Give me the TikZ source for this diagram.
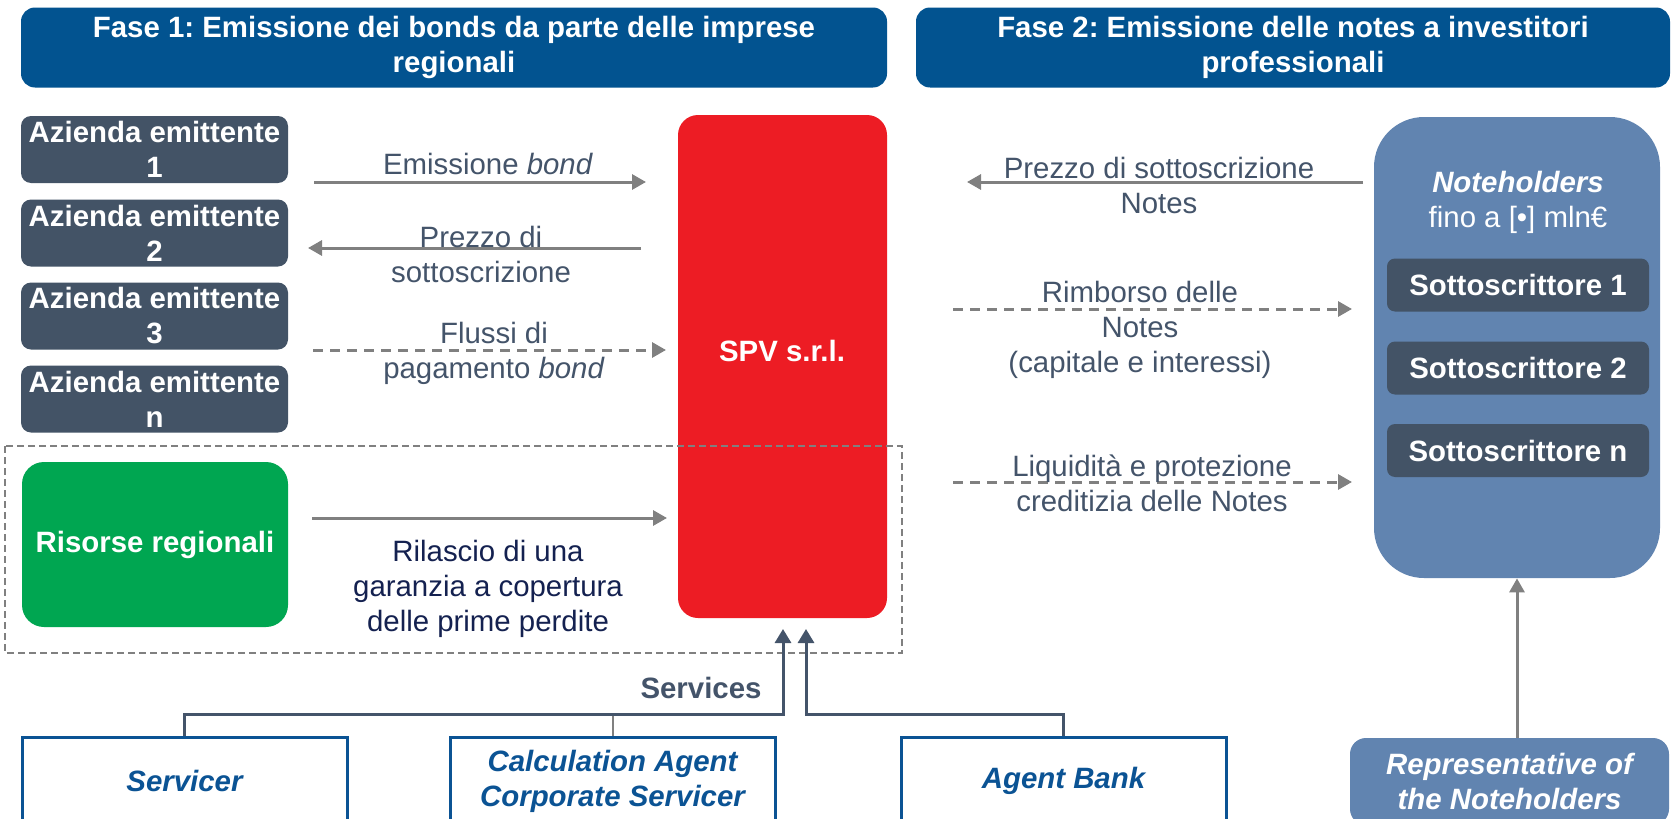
\documentclass[tikz,border=0pt]{standalone}
\usepackage{fontspec}
\setmainfont{Liberation Sans}
\usetikzlibrary{arrows.meta}
\definecolor{hblue}{RGB}{2,83,144}
\definecolor{slate}{RGB}{67,83,102}
\definecolor{spvred}{RGB}{237,28,36}
\definecolor{rgreen}{RGB}{0,166,81}
\definecolor{nblue}{RGB}{97,132,176}
\definecolor{agray}{RGB}{128,128,128}
\definecolor{lgray}{RGB}{68,84,106}
\definecolor{navy}{RGB}{20,33,80}
\definecolor{bblue}{RGB}{11,83,148}
\newcommand\myfs{\fontsize{14.7}{17.5}\selectfont}
\frenchspacing
\begin{document}
\begin{tikzpicture}[x=0.5pt,y=-0.5pt,
  every node/.style={font=\myfs, inner sep=0pt, align=center},
  hdr/.style={fill=hblue, rounded corners=7pt, text=white, font=\myfs\bfseries, minimum height=40pt},
  azbox/.style={fill=slate, rounded corners=5pt, text=white, font=\myfs\bfseries, minimum width=133.5pt, minimum height=33.5pt},
  sotbox/.style={fill=slate, rounded corners=4pt, text=white, font=\myfs\bfseries, minimum width=131pt, minimum height=26.5pt},
  bbox/.style={draw=bblue, line width=1.5pt, fill=white, text=bblue, font=\myfs\bfseries\itshape, minimum width=162.5pt, minimum height=44pt},
  lbl/.style={text=lgray},
  garr/.style={draw=agray, line width=1.5pt, -{Triangle[length=7pt,width=7.5pt]}},
  gdash/.style={garr, dash pattern=on 5pt off 3.5pt},
  svc/.style={draw=lgray, line width=1.5pt, -{Triangle[length=7pt,width=8pt]}}
]
\useasboundingbox (0,0) rectangle (1672,819);
\clip (0,0) rectangle (1672,819);
\fill[white] (0,0) rectangle (1672,819);

% headers
\node[hdr, minimum width=433pt] (h1) at (454,47.5) {Fase 1: Emissione dei bonds da parte delle imprese\\regionali};
\node[hdr, minimum width=377pt] (h2) at (1293,47.5) {Fase 2: Emissione delle notes a investitori\\professionali};

% companies
\node[azbox] (az1) at (154.5,149.5) {Azienda emittente\\1};
\node[azbox] (az2) at (154.5,233) {Azienda emittente\\2};
\node[azbox] (az3) at (154.5,316) {Azienda emittente\\3};
\node[azbox] (az4) at (154.5,399) {Azienda emittente\\n};

% SPV
\node[fill=spvred, rounded corners=10pt, minimum width=104.5pt, minimum height=251.5pt] (spv) at (782.5,366.5) {};
\node[text=white, font=\myfs\bfseries] (spvt) at (782,351) {SPV s.r.l.};

% regional resources
\node[fill=rgreen, rounded corners=11pt, text=white, font=\myfs\bfseries, minimum width=133pt, minimum height=82.5pt] (ris) at (155,544.5) {Risorse regionali};

% dashed frame
\draw[agray, line width=1pt, dash pattern=on 3.5pt off 2pt] (5,446) rectangle (902,653);

% left arrows
\coordinate (e1a) at (314,182); \coordinate (e1b) at (646,182);
\draw[garr] (e1a) -- (e1b);
\node[lbl] (l1) at (488,164) {Emissione \textit{bond}};
\coordinate (e2a) at (641,248); \coordinate (e2b) at (308,248);
\draw[garr] (e2a) -- (e2b);
\node[lbl] (l2) at (481,254.5) {Prezzo di\\sottoscrizione};
\coordinate (e3a) at (313,350); \coordinate (e3b) at (666,350);
\draw[gdash] (e3a) -- (e3b);
\node[lbl] (l3) at (494,353) {Flussi di\\pagamento \textit{bond}};
\coordinate (e4a) at (312,518); \coordinate (e4b) at (667,518);
\draw[garr] (e4a) -- (e4b);
\node[text=navy] (l4) at (488,589) {Rilascio di una\\garanzia a copertura\\delle prime perdite};

% right arrows
\coordinate (r1a) at (1363,182); \coordinate (r1b) at (967,182);
\draw[garr] (r1a) -- (r1b);
\node[lbl] (m1) at (1159,185) {Prezzo di sottoscrizione\\Notes};
\coordinate (r2a) at (953,309); \coordinate (r2b) at (1352,309);
\draw[gdash] (r2a) -- (r2b);
\node[lbl] (m2) at (1140,329.5) {Rimborso delle\\Notes\\(capitale e interessi)};
\coordinate (r3a) at (953,482); \coordinate (r3b) at (1352,482);
\draw[gdash] (r3a) -- (r3b);
\node[lbl] (m3) at (1152,483.5) {Liquidità e protezione\\creditizia delle Notes};

% noteholders
\node[fill=nblue, rounded corners=25pt, minimum width=143pt, minimum height=230.5pt] (note) at (1517,347.5) {};
\node[text=white] (notet) at (1518,202.5) {\textbf{\textit{Noteholders}}\\fino a [•] mln€};
\node[sotbox] (s1) at (1518,285) {Sottoscrittore 1};
\node[sotbox] (s2) at (1518,368) {Sottoscrittore 2};
\node[sotbox] (s3) at (1518,450.5) {Sottoscrittore n};

% services
\node[text=lgray, font=\myfs\bfseries] (svl) at (701,688) {Services};
\node[bbox] (serv) at (184.5,781) {Servicer};
\node[bbox] (calc) at (612.5,781) {Calculation Agent\\Corporate Servicer};
\node[bbox] (bank) at (1063.5,781) {Agent Bank};
\coordinate (bus) at (700,714);
\coordinate (t1) at (783,629);
\coordinate (t2) at (806,629);
\draw[agray, line width=1pt] (calc.north) -- (calc.north |- bus);
\draw[svc] (serv.north) |- (t1 |- bus) -- (t1);
\draw[svc] (bank.north) |- (t2 |- bus) -- (t2);

% representative
\node[fill=nblue, rounded corners=8pt, text=white, font=\myfs\bfseries\itshape, minimum width=159.5pt, minimum height=43.5pt] (rep) at (1509.5,781.5) {Representative of\\the Noteholders};
\draw[garr] (note.south |- rep.north) -- (note.south);
\end{tikzpicture}
\end{document}
